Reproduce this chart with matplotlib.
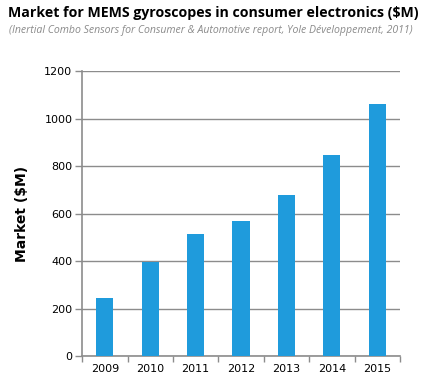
import matplotlib
matplotlib.use('Agg')
import matplotlib.pyplot as plt

years = ['2009', '2010', '2011', '2012', '2013', '2014', '2015']
market = [245, 397, 512, 568, 678, 848, 1062]
yticks = [0, 200, 400, 600, 800, 1000, 1200]

bar_color = '#1f9bdc'
grid_color = '#8c8c8c'

fig = plt.figure(figsize=(4.21, 3.80), dpi=100)
ax = fig.add_axes([0.195, 0.063, 0.755, 0.75])

x = range(len(years))
ax.bar(x, market, width=0.38, color=bar_color, zorder=3)

ax.set_xlim(-0.5, len(years) - 0.5)
ax.set_ylim(0, 1200)
ax.set_yticks(yticks)
ax.set_yticklabels([str(v) for v in yticks], fontsize=8)
ax.set_xticks(list(x))
ax.set_xticklabels(years, fontsize=8)
ax.set_xticks([i + 0.5 for i in range(-1, len(years))], minor=True)
ax.tick_params(axis='x', which='major', length=0, pad=6)
ax.tick_params(axis='x', which='minor', length=4, color=grid_color, width=1)
ax.tick_params(axis='y', length=5, color=grid_color, width=1, pad=2)

ax.yaxis.grid(True, color=grid_color, linewidth=1, zorder=0)
for side in ['top', 'right']:
    ax.spines[side].set_visible(False)
for side in ['left', 'bottom']:
    ax.spines[side].set_color(grid_color)
    ax.spines[side].set_linewidth(1.2)

ax.set_ylabel('Market ($M)', fontsize=10, fontweight='bold', labelpad=11)

title = fig.text(8 / 421, 1 - 13 / 380,
                 'Market for MEMS gyroscopes in consumer electronics ($M)',
                 fontsize=11, fontweight='bold', family='Open Sans',
                 va='center', ha='left')
sub = fig.text(9 / 421, 1 - 30 / 380,
               '(Inertial Combo Sensors for Consumer & Automotive report, Yole Développement, 2011)',
               fontsize=6.5, style='italic', family='Open Sans', color='#8a8a8a',
               va='center', ha='left')

# shrink the header texts to the widths seen in the reference
renderer = fig.canvas.get_renderer()
for txt, target in [(title, 409), (sub, 406)]:
    w = txt.get_window_extent(renderer).width
    txt.set_fontsize(txt.get_fontsize() * target / w)

fig.savefig('out.png', dpi=100)
